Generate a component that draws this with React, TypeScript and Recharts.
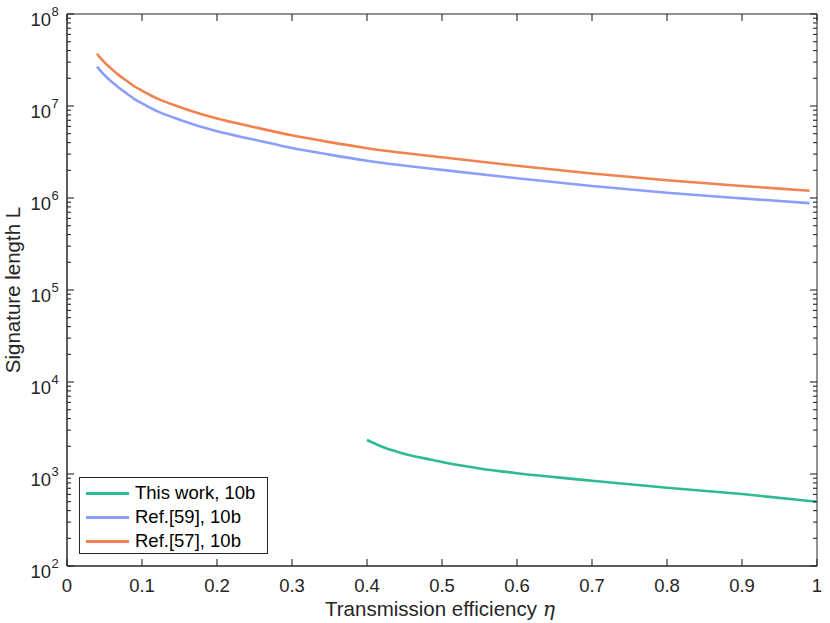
import { LineChart, Line, XAxis, YAxis, Legend, ReferenceArea } from 'recharts';

// values
const etaRef = [0.04, 0.045, 0.05, 0.055, 0.06, 0.07, 0.08, 0.09, 0.1, 0.12, 0.15, 0.2, 0.25, 0.3, 0.35, 0.4, 0.5, 0.6, 0.7, 0.8, 0.9, 0.99];
const ref57 = [3.7e7, 3.3e7, 2.98e7, 2.72e7, 2.5e7, 2.14e7, 1.87e7, 1.63e7, 1.47e7, 1.21e7, 9.75e6, 7.3e6, 5.88e6, 4.8e6, 4.05e6, 3.48e6, 2.77e6, 2.24e6, 1.85e6, 1.56e6, 1.35e6, 1.2e6];
const ref59 = [2.68e7, 2.4e7, 2.17e7, 1.98e7, 1.82e7, 1.56e7, 1.36e7, 1.19e7, 1.07e7, 8.8e6, 7.1e6, 5.3e6, 4.3e6, 3.5e6, 2.96e6, 2.54e6, 2.02e6, 1.64e6, 1.35e6, 1.14e6, 9.9e5, 8.8e5];

const etaThis = [0.4, 0.42, 0.44, 0.46, 0.48, 0.5, 0.55, 0.6, 0.65, 0.7, 0.8, 0.9, 1.0];
const thisWork = [2340, 1980, 1750, 1580, 1460, 1350, 1150, 1020, 925, 845, 710, 605, 500];

const seriesNames = ['This work, 10b', 'Ref.[59], 10b', 'Ref.[57], 10b'];
const seriesColors = ['#2EBA92', '#8C9EFC', '#F0834F'];

const xTicks = [0, 0.1, 0.2, 0.3, 0.4, 0.5, 0.6, 0.7, 0.8, 0.9, 1];
const yExponents = [2, 3, 4, 5, 6, 7, 8];

const yMajor = yExponents.map((e) => Math.pow(10, e));
const yMinor: number[] = [];
yExponents.slice(0, -1).forEach((e) => {
  for (let m = 2; m <= 9; m++) yMinor.push(m * Math.pow(10, e));
});
const yTicks = [...yMajor, ...yMinor].sort((a, b) => a - b);

const dataThis = etaThis.map((x, i) => ({ x, y: thisWork[i] }));
const data59 = etaRef.map((x, i) => ({ x, y: ref59[i] }));
const data57 = etaRef.map((x, i) => ({ x, y: ref57[i] }));

const WIDTH = 830;
const HEIGHT = 623;
const MARGIN = { top: 14, right: 13, bottom: 0, left: 0 };
const Y_AXIS_W = 67;
const X_AXIS_H = 57;
const PLOT_W = WIDTH - MARGIN.left - MARGIN.right - Y_AXIS_W;
const PLOT_H = HEIGHT - MARGIN.top - MARGIN.bottom - X_AXIS_H;

const AXIS = '#262626';
const FONT = '"Liberation Sans", Arial, Helvetica, sans-serif';

const isMajor = (v: number) => yMajor.some((m) => Math.abs(m - v) / m < 1e-6);

// left + right (inward) ticks; labels for the decades
const LeftTick = (props: any) => {
  const { x, y, payload } = props;
  const major = isMajor(payload.value);
  const len = major ? 7 : 4;
  const exp = Math.round(Math.log10(payload.value));
  const xr = x + PLOT_W;
  return (
    <g>
      <line x1={x} x2={x + len} y1={y} y2={y} stroke={AXIS} strokeWidth={1.1} />
      <line x1={xr} x2={xr - len} y1={y} y2={y} stroke={AXIS} strokeWidth={1.1} />
      {major && (
        <g fontFamily={FONT} fill={AXIS}>
          <text x={x - 16} y={y + 12} fontSize={18.5} textAnchor="end">10</text>
          <text x={x - 15.5} y={y + 2} fontSize={13} textAnchor="start">{exp}</text>
        </g>
      )}
    </g>
  );
};

// bottom + top (inward) ticks with labels
const BottomTick = (props: any) => {
  const { x, y, payload } = props;
  const yt = y - PLOT_H;
  return (
    <g>
      <line x1={x} x2={x} y1={y} y2={y - 7} stroke={AXIS} strokeWidth={1.1} />
      <line x1={x} x2={x} y1={yt} y2={yt + 7} stroke={AXIS} strokeWidth={1.1} />
      <text x={x} y={y + 26} fontSize={18.5} fontFamily={FONT} fill={AXIS} textAnchor="middle">
        {String(payload.value)}
      </text>
    </g>
  );
};

const XLabel = (props: any) => {
  const { viewBox } = props;
  const cx = viewBox.x + viewBox.width / 2 - 2;
  return (
    <text x={cx} y={viewBox.y + 50} fontSize={20.5} fontFamily={FONT} fill={AXIS} textAnchor="middle">
      Transmission efficiency{' '}
      <tspan fontFamily='"DejaVu Serif", "Liberation Serif", serif' fontStyle="italic">η</tspan>
    </text>
  );
};

const YLabel = (props: any) => {
  const { viewBox } = props;
  const cy = viewBox.y + viewBox.height / 2;
  const cx = 20;
  return (
    <text
      x={cx}
      y={cy}
      fontSize={20.5}
      fontFamily={FONT}
      fill={AXIS}
      textAnchor="middle"
      transform={`rotate(-90, ${cx}, ${cy})`}
    >
      Signature length L
    </text>
  );
};

const LegendBox = () => (
  <div
    style={{
      boxSizing: 'border-box',
      border: `1px solid ${AXIS}`,
      background: '#fff',
      padding: '3px 0 3px 6px',
      fontFamily: FONT,
      fontSize: 18.5,
      color: '#000',
      width: 189,
      height: 77,
    }}
  >
    {seriesNames.map((name, i) => (
      <div key={name} style={{ display: 'flex', alignItems: 'center', height: 24 }}>
        <span style={{ display: 'inline-block', width: 43, height: 3, background: seriesColors[i], marginRight: 6 }} />
        <span style={{ whiteSpace: 'nowrap' }}>{name}</span>
      </div>
    ))}
  </div>
);

export default function App() {
  return (
    <div style={{ position: 'absolute', left: 0, top: 0, width: WIDTH, height: HEIGHT, background: '#fff' }}>
      <LineChart width={WIDTH} height={HEIGHT} margin={MARGIN}>
        <XAxis
          xAxisId="bottom"
          dataKey="x"
          type="number"
          domain={[0, 1]}
          ticks={xTicks}
          interval={0}
          height={X_AXIS_H}
          tickSize={0}
          tickMargin={0}
          tickLine={false}
          axisLine={{ stroke: AXIS }}
          tick={<BottomTick />}
          label={<XLabel />}
          allowDataOverflow
        />
        <YAxis
          yAxisId="left"
          scale="log"
          type="number"
          domain={[100, 1e8]}
          ticks={yTicks}
          interval={0}
          width={Y_AXIS_W}
          tickSize={0}
          tickMargin={0}
          tickLine={false}
          axisLine={{ stroke: AXIS }}
          tick={<LeftTick />}
          label={<YLabel />}
          allowDataOverflow
        />
        {/* box around the axes */}
        <ReferenceArea
          xAxisId="bottom"
          yAxisId="left"
          x1={0}
          x2={1}
          y1={100}
          y2={1e8}
          fill="none"
          fillOpacity={0}
          stroke={AXIS}
          strokeWidth={1}
          strokeOpacity={1}
        />
        <Legend
          layout="horizontal"
          verticalAlign="middle"
          align="center"
          content={<LegendBox />}
          wrapperStyle={{ position: 'absolute', left: 79, top: 477, width: 'auto', height: 'auto' }}
        />
        <Line
          xAxisId="bottom"
          yAxisId="left"
          data={dataThis}
          dataKey="y"
          name={seriesNames[0]}
          type="monotone"
          stroke={seriesColors[0]}
          strokeWidth={2.6}
          dot={false}
          isAnimationActive={false}
        />
        <Line
          xAxisId="bottom"
          yAxisId="left"
          data={data59}
          dataKey="y"
          name={seriesNames[1]}
          type="monotone"
          stroke={seriesColors[1]}
          strokeWidth={2.6}
          dot={false}
          isAnimationActive={false}
        />
        <Line
          xAxisId="bottom"
          yAxisId="left"
          data={data57}
          dataKey="y"
          name={seriesNames[2]}
          type="monotone"
          stroke={seriesColors[2]}
          strokeWidth={2.6}
          dot={false}
          isAnimationActive={false}
        />
      </LineChart>
    </div>
  );
}
